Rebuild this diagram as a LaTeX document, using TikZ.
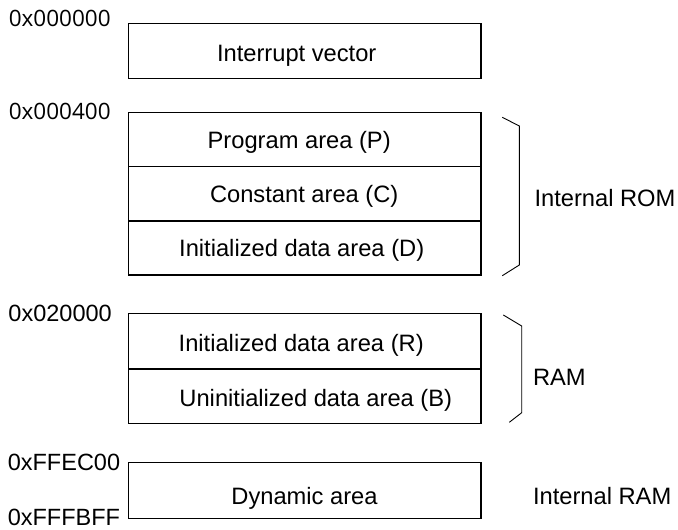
\documentclass[tikz,border=0pt]{standalone}
\usepackage{fontspec}
\setmainfont{Liberation Sans}
\newfontfamily\addrfont{Open Sans}
\begin{document}
\begin{tikzpicture}[x=1pt,y=-1pt,
  cell/.style={draw=black,line width=1.1pt,rectangle,inner sep=0pt,outer sep=0pt,minimum width=352.7pt},
  lbl/.style={inner sep=0pt,outer sep=0pt,anchor=base,font=\fontsize{23.7}{28}\selectfont},
  side/.style={inner sep=0pt,outer sep=0pt,anchor=base west,font=\fontsize{23.7}{28}\selectfont},
  addr/.style={inner sep=0pt,outer sep=0pt,anchor=base west,font=\addrfont\fontsize{22.5}{27}\selectfont},
  addrb/.style={inner sep=0pt,outer sep=0pt,anchor=base west,font=\fontsize{23.5}{28}\selectfont},
  brace/.style={draw=black,line width=0.9pt}]
\useasboundingbox (0,0) rectangle (678,530);
% cells
\node[cell,minimum height=55pt] (iv) at (304.65,50.8) {};
\node[cell,minimum height=54.4pt] (p) at (304.65,139.5) {};
\node[cell,minimum height=54.3pt] (c) at (304.65,193.85) {};
\node[cell,minimum height=54pt] (d) at (304.65,248) {};
\node[cell,minimum height=55.7pt] (r) at (304.65,341.15) {};
\node[cell,minimum height=54.5pt] (b) at (304.65,396.25) {};
\node[cell,minimum height=55.6pt] (dyn) at (304.65,490.5) {};
% cell texts
\node[lbl] (tiv) at (296.7,61.7) {Interrupt vector};
\node[lbl] (tp) at (299.2,148.3) {Program area (P)};
\node[lbl] (tc) at (304.2,202.6) {Constant area (C)};
\node[lbl] (td) at (301.7,256.7) {Initialized data area (D)};
\node[lbl] (tr) at (301.2,351.7) {Initialized data area (R)};
\node[lbl] (tb) at (315.8,406.7) {Uninitialized data area (B)};
\node[lbl] (tdyn) at (304.5,504) {Dynamic area};
% addresses
\node[addr] (a0) at (8.8,26.6) {0x000000};
\node[addr] (a1) at (8.8,119) {0x000400};
\node[addrb] (a2) at (8.5,321.7) {0x020000};
\node[addrb] (a3) at (7.8,470.7) {0xFFEC00};
\node[addrb] (a4) at (7.8,525) {0xFFFBFF};
% braces
\draw[brace] (502.3,117.3) -- (519.3,126) -- (519.3,265) -- (502.3,275.7);
\draw[brace] (503.3,315) -- (521.7,326) -- (521.7,412.7) -- (509.3,422.3);
% side labels
\node[side] (rom) at (534.5,206) {Internal ROM};
\node[side] (ram) at (533,385) {RAM};
\node[side] (iram) at (533,504) {Internal RAM};
\end{tikzpicture}
\end{document}
